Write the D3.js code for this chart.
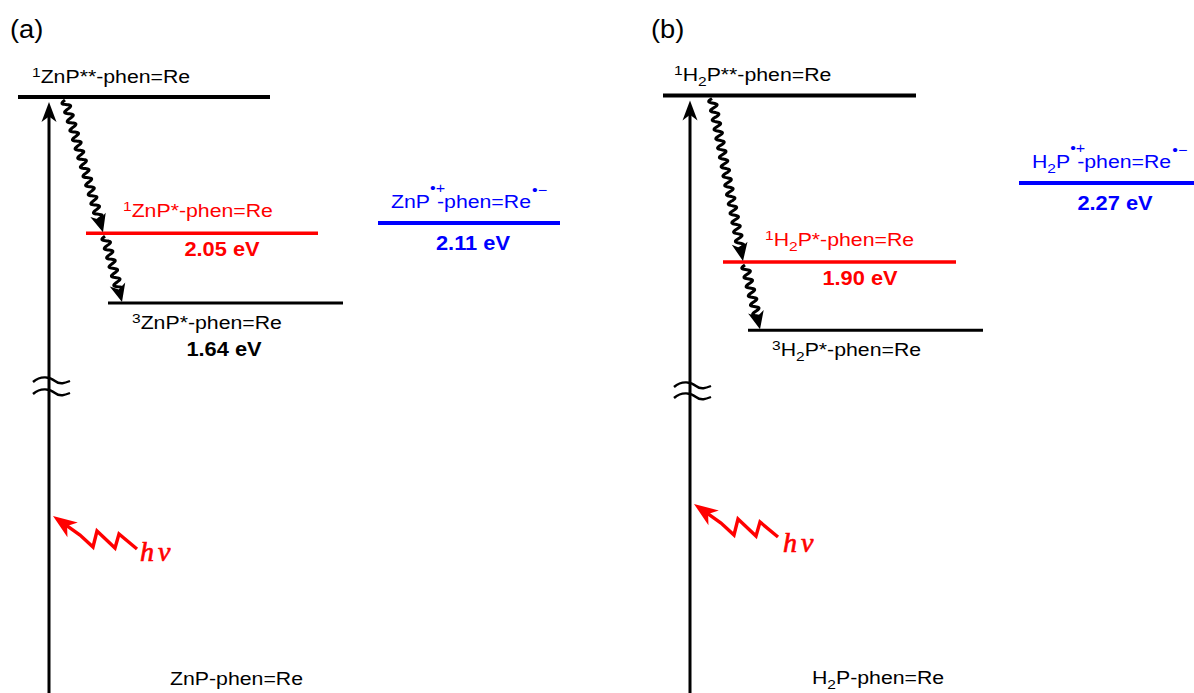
<!DOCTYPE html>
<html>
<head>
<meta charset="utf-8">
<script src="https://cdn.jsdelivr.net/npm/d3@7"></script>
<style>
  html, body { margin: 0; padding: 0; background: #fff; overflow: hidden; }
</style>
</head>
<body>
<svg id="chart" width="1194" height="693"></svg>
<script>
// ---- Energy levels (eV) of the two porphyrin–phen=Re dyads ----
const panelTags = ["(a)", "(b)"];
const donors = ["ZnP", "H2P"];
const upperSingletEnergy = [2.85, 2.68];   // 1P**, shown without a value
const singletEnergy = [2.05, 1.90];        // 1P*
const tripletEnergy = [1.64, 1.58];        // 3P*
const tripletValueShown = [true, false];
const chargeSepEnergy = [2.11, 2.27];      // P•+ - phen=Re•−

// ---- Drawing layout (pixels) ----
const layout = [
  {
    tagX: 10, axisX: 49,
    eDomain: [1.64, 2.11], yRange: [303, 223],
    s2: { x0: 18, x1: 270, labelX: 32 },
    s1: { x0: 86, x1: 318, labelX: 123, valueX: 222 },
    t1: { x0: 108, x1: 343, labelX: 132, valueX: 224 },
    cs: { x0: 378, x1: 560, labelX: 391, valueX: 473 },
    ground: { x: 170, y: 685 },
    wave: { startX: 65, s1X: 103, s1StartX: 105, t1X: 122 },
    breaks: [380, 392],
    hv: { x: 137, y: 549, tx: 140, ty: 561 }
  },
  {
    tagX: 651, axisX: 690,
    eDomain: [1.90, 2.27], yRange: [262, 183],
    s2: { x0: 663, x1: 916, labelX: 674 },
    s1: { x0: 723, x1: 956, labelX: 765, valueX: 860 },
    t1: { x0: 748, x1: 983, labelX: 772, valueX: 866 },
    cs: { x0: 1019, x1: 1200, labelX: 1032, valueX: 1115 },
    ground: { x: 812, y: 684 },
    wave: { startX: 712, s1X: 743, s1StartX: 745, t1X: 760 },
    breaks: [385, 396],
    hv: { x: 778, y: 537, tx: 783, ty: 552 }
  }
];

const RED = "#ff0000", BLUE = "#0000ff", BLACK = "#000000";
const SANS = "'Liberation Sans', Arial, Helvetica, sans-serif";
const SERIF = "'Liberation Serif', 'Times New Roman', serif";
const SX = 1.15;   // horizontal stretch of the lettering

const svg = d3.select("#chart");
const fmt = d3.format(".2f");

// Split a formula such as "H2P" into normal and subscript pieces
function formula(name) {
  return name.split(/(\d+)/).filter(s => s.length).map(s =>
    /^\d+$/.test(s) ? { t: s, sub: true } : { t: s });
}

// Text with super/subscripts built from tspans
function richText(g, x, y, parts, o) {
  const t = g.append("text")
    .attr("transform", `translate(${x},${y}) scale(${o.sx || SX},1)`)
    .attr("font-family", o.family || SANS)
    .attr("font-size", o.size)
    .attr("font-weight", o.weight || "normal")
    .attr("fill", o.color)
    .attr("text-anchor", o.anchor || "start");
  let shift = 0;
  parts.forEach(p => {
    const target = p.sup ? -(p.rise || 6) : p.sub ? 5 : 0;
    const ts = t.append("tspan").attr("dy", target - shift).text(p.t);
    if (p.sup || p.sub) ts.attr("font-size", p.size || 13.5);
    if (p.dx) ts.attr("dx", p.dx);
    shift = target;
  });
  return t;
}

// Barbed arrow head pointing along unit vector u, tip at `tip`
function arrowHead(g, tip, u, len, hw, color) {
  const [ux, uy] = u, nx = -uy, ny = ux;
  const bx = tip[0] - ux * len, by = tip[1] - uy * len;
  const mx = tip[0] - ux * len * 0.72, my = tip[1] - uy * len * 0.72;
  g.append("path")
    .attr("d", `M${tip[0]},${tip[1]}L${bx + nx * hw},${by + ny * hw}L${mx},${my}L${bx - nx * hw},${by - ny * hw}Z`)
    .attr("fill", color);
}

// Wavy (non-radiative) arrow from p0 to p1
function wavyArrow(g, p0, p1) {
  const dx = p1[0] - p0[0], dy = p1[1] - p0[1], L = Math.hypot(dx, dy);
  const ux = dx / L, uy = dy / L, nx = -uy, ny = ux;
  const head = 18, amp = 3.8, wl = 9.5;
  const pts = d3.range(0, L - head * 0.65, 0.5).map(s => {
    const a = amp * Math.sin(2 * Math.PI * s / wl);
    return [p0[0] + ux * s + nx * a, p0[1] + uy * s + ny * a];
  });
  g.append("path").attr("d", d3.line()(pts))
    .attr("fill", "none").attr("stroke", BLACK).attr("stroke-width", 3);
  arrowHead(g, p1, [ux, uy], head, 8, BLACK);
}

// Zigzag light arrow (hν) ending at tip, drawn from its tail point
const zigzag = [[0, 0], [-18, -15], [-22, -1], [-40, -18], [-44, -2], [-57, -14]];
const zigTip = [-84, -33];

donors.forEach((donor, i) => {
  const L = layout[i];
  const g = svg.append("g");
  const y = d3.scaleLinear().domain(L.eDomain).range(L.yRange);
  const name = formula(donor);

  const yS2 = y(upperSingletEnergy[i]);
  const yS1 = y(singletEnergy[i]);
  const yT1 = y(tripletEnergy[i]);
  const yCS = y(chargeSepEnergy[i]);

  // panel tag
  g.append("text")
    .attr("transform", `translate(${L.tagX},38) scale(1.05,1)`)
    .attr("font-family", SANS).attr("font-size", 26).attr("fill", BLACK)
    .text(panelTags[i]);

  // vertical excitation arrow, from the ground state up to 1P**
  const tipY = yS2 + 5;
  g.append("line")
    .attr("x1", L.axisX).attr("x2", L.axisX)
    .attr("y1", 700).attr("y2", tipY + 14)
    .attr("stroke", BLACK).attr("stroke-width", 3);
  arrowHead(g, [L.axisX, tipY], [0, -1], 20, 7.5, BLACK);

  // axis break marks
  L.breaks.forEach(by => {
    const ax = L.axisX;
    g.append("path")
      .attr("d", `M${ax - 16},${by + 2}C${ax - 8},${by - 5} ${ax + 1},${by - 3} ${ax + 6},${by + 1}S${ax + 16},${by + 3} ${ax + 21},${by + 1}`)
      .attr("fill", "none").attr("stroke", BLACK).attr("stroke-width", 2.4);
  });

  // levels
  const level = (lv, yy, color, w) => g.append("line")
    .attr("x1", lv.x0).attr("x2", lv.x1).attr("y1", yy).attr("y2", yy)
    .attr("stroke", color).attr("stroke-width", w);

  level(L.s2, yS2, BLACK, 4);
  richText(g, L.s2.labelX, yS2 - 14,
    [{ t: "1", sup: true }, ...name, { t: "**-phen=Re" }], { size: 18.5, color: BLACK });

  level(L.s1, yS1, RED, 3.5);
  richText(g, L.s1.labelX, yS1 - 16,
    [{ t: "1", sup: true }, ...name, { t: "*-phen=Re" }], { size: 18.5, color: RED });
  richText(g, L.s1.valueX, yS1 + 23, [{ t: fmt(singletEnergy[i]) + " eV" }],
    { size: 19.5, weight: "bold", color: RED, anchor: "middle", sx: 1.12 });

  level(L.t1, yT1, BLACK, 3);
  richText(g, L.t1.labelX, yT1 + 26,
    [{ t: "3", sup: true }, ...name, { t: "*-phen=Re" }], { size: 18.5, color: BLACK });
  if (tripletValueShown[i]) {
    richText(g, L.t1.valueX, yT1 + 53, [{ t: fmt(tripletEnergy[i]) + " eV" }],
      { size: 19.5, weight: "bold", color: BLACK, anchor: "middle", sx: 1.12 });
  }

  level(L.cs, yCS, BLUE, 4);
  richText(g, L.cs.labelX, yCS - 15,
    [...name, { t: "\u2022+", sup: true, rise: 15, size: 14 }, { t: "-phen=Re", dx: -7 },
     { t: "\u2022\u2212", sup: true, rise: 13, size: 14, dx: 1 }],
    { size: 18.5, color: BLUE });
  richText(g, L.cs.valueX, yCS + 27, [{ t: fmt(chargeSepEnergy[i]) + " eV" }],
    { size: 19.5, weight: "bold", color: BLUE, anchor: "middle", sx: 1.12 });

  // internal conversion and intersystem crossing
  wavyArrow(g, [L.wave.startX, yS2 + 3], [L.wave.s1X, yS1 - 1]);
  wavyArrow(g, [L.wave.s1StartX, yS1 + 3], [L.wave.t1X, yT1 - 1]);

  // ground state label
  richText(g, L.ground.x, L.ground.y, [...name, { t: "-phen=Re" }], { size: 18.5, color: BLACK });

  // light absorption hν
  const hv = g.append("g").attr("transform", `translate(${L.hv.x},${L.hv.y})`);
  const last = zigzag[zigzag.length - 1];
  const hdx = zigTip[0] - last[0], hdy = zigTip[1] - last[1], hl = Math.hypot(hdx, hdy);
  const hu = [hdx / hl, hdy / hl];
  const headLen = 24;
  const shaftEnd = [zigTip[0] - hu[0] * headLen * 0.7, zigTip[1] - hu[1] * headLen * 0.7];
  hv.append("path").attr("d", d3.line()([...zigzag, shaftEnd]))
    .attr("fill", "none").attr("stroke", RED).attr("stroke-width", 3.4)
    .attr("stroke-linejoin", "miter");
  arrowHead(hv, zigTip, hu, headLen, 9, RED);
  g.append("text").attr("x", L.hv.tx).attr("y", L.hv.ty)
    .attr("font-family", SERIF).attr("font-style", "italic")
    .attr("font-size", 28).attr("fill", RED)
    .attr("stroke", RED).attr("stroke-width", 0.7)
    .selectAll("tspan").data(["h", "\u03bd"]).join("tspan")
    .attr("dx", (d, k) => k ? 4 : 0).text(d => d);
});
</script>
</body>
</html>
